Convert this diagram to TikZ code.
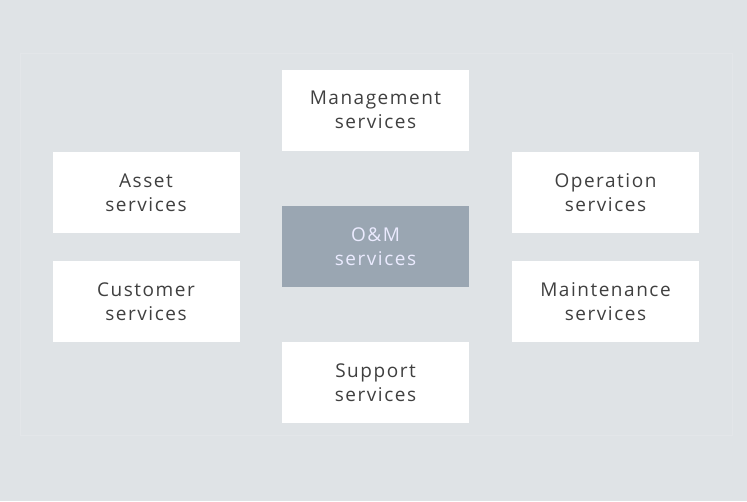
\documentclass[tikz,border=0pt]{standalone}
\usepackage{fontspec}
\setmainfont{Open Sans}[LetterSpace=8]
\usepackage{xcolor}
\usepackage{tikz}
\usetikzlibrary{positioning}
\definecolor{bggray}{HTML}{DFE3E6}
\definecolor{panelline}{HTML}{E3E6E9}
\definecolor{corebox}{HTML}{9AA6B2}
\definecolor{textgray}{HTML}{404040}
\tikzstyle{service} = [rectangle, minimum width=187pt, minimum height=81pt, text centered, align=center, fill=white, text=textgray, font=\fontsize{19}{24}\selectfont, inner sep=0pt]
\tikzstyle{core} = [service, fill=corebox, text=white!92!blue]

\begin{document}
\begin{tikzpicture}[x=1pt, y=-1pt]
\fill[bggray] (0,0) rectangle (747,501);
\useasboundingbox (0,0) rectangle (747,501);
\draw[panelline] (20,53) rectangle (732,435);

\node (om) [core] at (375.5,246.5) {O\&M\\services};
\node (mgmt) [service, above=55pt of om] {Management\\services};
\node (supp) [service, below=55pt of om] {Support\\services};
\node (asset) [service] at (146,192.5) {Asset\\services};
\node (cust) [service, below=28pt of asset] {Customer\\services};
\node (oper) [service] at (605.5,192.5) {Operation\\services};
\node (maint) [service, below=28pt of oper] {Maintenance\\services};

\end{tikzpicture}
\end{document}
